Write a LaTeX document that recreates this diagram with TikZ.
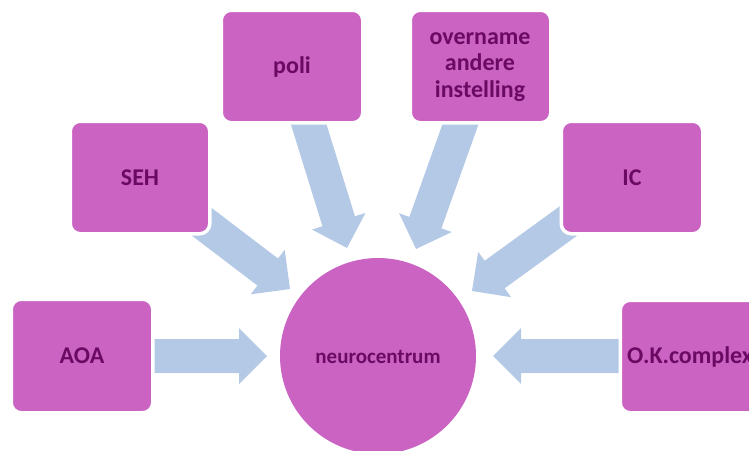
\documentclass[tikz,border=0pt]{standalone}
\usepackage{fontspec}
\setmainfont{Carlito}
\usetikzlibrary{calc}
\definecolor{boxfill}{HTML}{CB63C3}
\definecolor{boxtext}{HTML}{6B0A63}
\definecolor{arrowfill}{HTML}{B4C9E5}
\tikzset{
  box/.style={draw=white, line width=3.5pt, fill=boxfill, rounded corners=10pt},
  lbl/.style={text=boxtext, font=\bfseries\fontsize{24}{26.5}\selectfont, align=center, inner sep=0pt},
  blk/.style={fill=arrowfill, draw=none},
}
% block arrow from tail coordinate #1 to tip coordinate #2
\newcommand\blockarrow[2]{%
  \fill[blk] ($(#1)!17pt!90:(#2)$) -- ($($(#2)!28pt!(#1)$)!17pt!90:(#2)$)
    -- ($($(#2)!28pt!(#1)$)!28pt!90:(#2)$) -- (#2)
    -- ($($(#2)!28pt!(#1)$)!28pt!-90:(#2)$)
    -- ($($(#2)!28pt!(#1)$)!17pt!-90:(#2)$) -- ($(#1)!17pt!-90:(#2)$) -- cycle;}
\begin{document}
\begin{tikzpicture}[x=1pt,y=-1pt]
\useasboundingbox (0,0) rectangle (749,450);
\begin{scope}
\clip (0,0) rectangle (749,450);
% arrow end points
\coordinate (t1) at (130,356); \coordinate (h1) at (267,356);
\coordinate (t2) at (181,206); \coordinate (h2) at (290,289);
\coordinate (t3) at (303,106); \coordinate (h3) at (347,248);
\coordinate (t4) at (467,106); \coordinate (h4) at (416,249);
\coordinate (t5) at (589,206); \coordinate (h5) at (472,291);
\coordinate (t6) at (640,356); \coordinate (h6) at (493,356);
\blockarrow{t1}{h1}
\blockarrow{t2}{h2}
\blockarrow{t3}{h3}
\blockarrow{t4}{h4}
\blockarrow{t5}{h5}
\blockarrow{t6}{h6}
% boxes
\draw[box] (11.25,299.25) rectangle (152.75,412.75); \node[lbl] (aoa) at (82,356) {AOA};
\draw[box] (70.25,121.25) rectangle (209.75,233.75); \node[lbl] (seh) at (140,178) {SEH};
\draw[box] (221.25,10.25) rectangle (362.75,122.75); \node[lbl] (poli) at (292,67) {poli};
\draw[box] (410.25,10.25) rectangle (550.75,122.75); \node[lbl] (over) at (480,67) {overname\\andere\\instelling};
\draw[box] (561.25,121.25) rectangle (702.75,233.75); \node[lbl] (ic) at (632,178) {IC};
\draw[box] (620.25,300.25) rectangle (780,412.75); \node[lbl, anchor=west] (ok) at (627,357) {O.K.complex};
% centre circle
\fill[boxfill] (378,356) circle[radius=98];
\node[lbl, font=\bfseries\fontsize{21}{24}\selectfont] (neuro) at (378,357) {neurocentrum};
\end{scope}
\end{tikzpicture}
\end{document}
